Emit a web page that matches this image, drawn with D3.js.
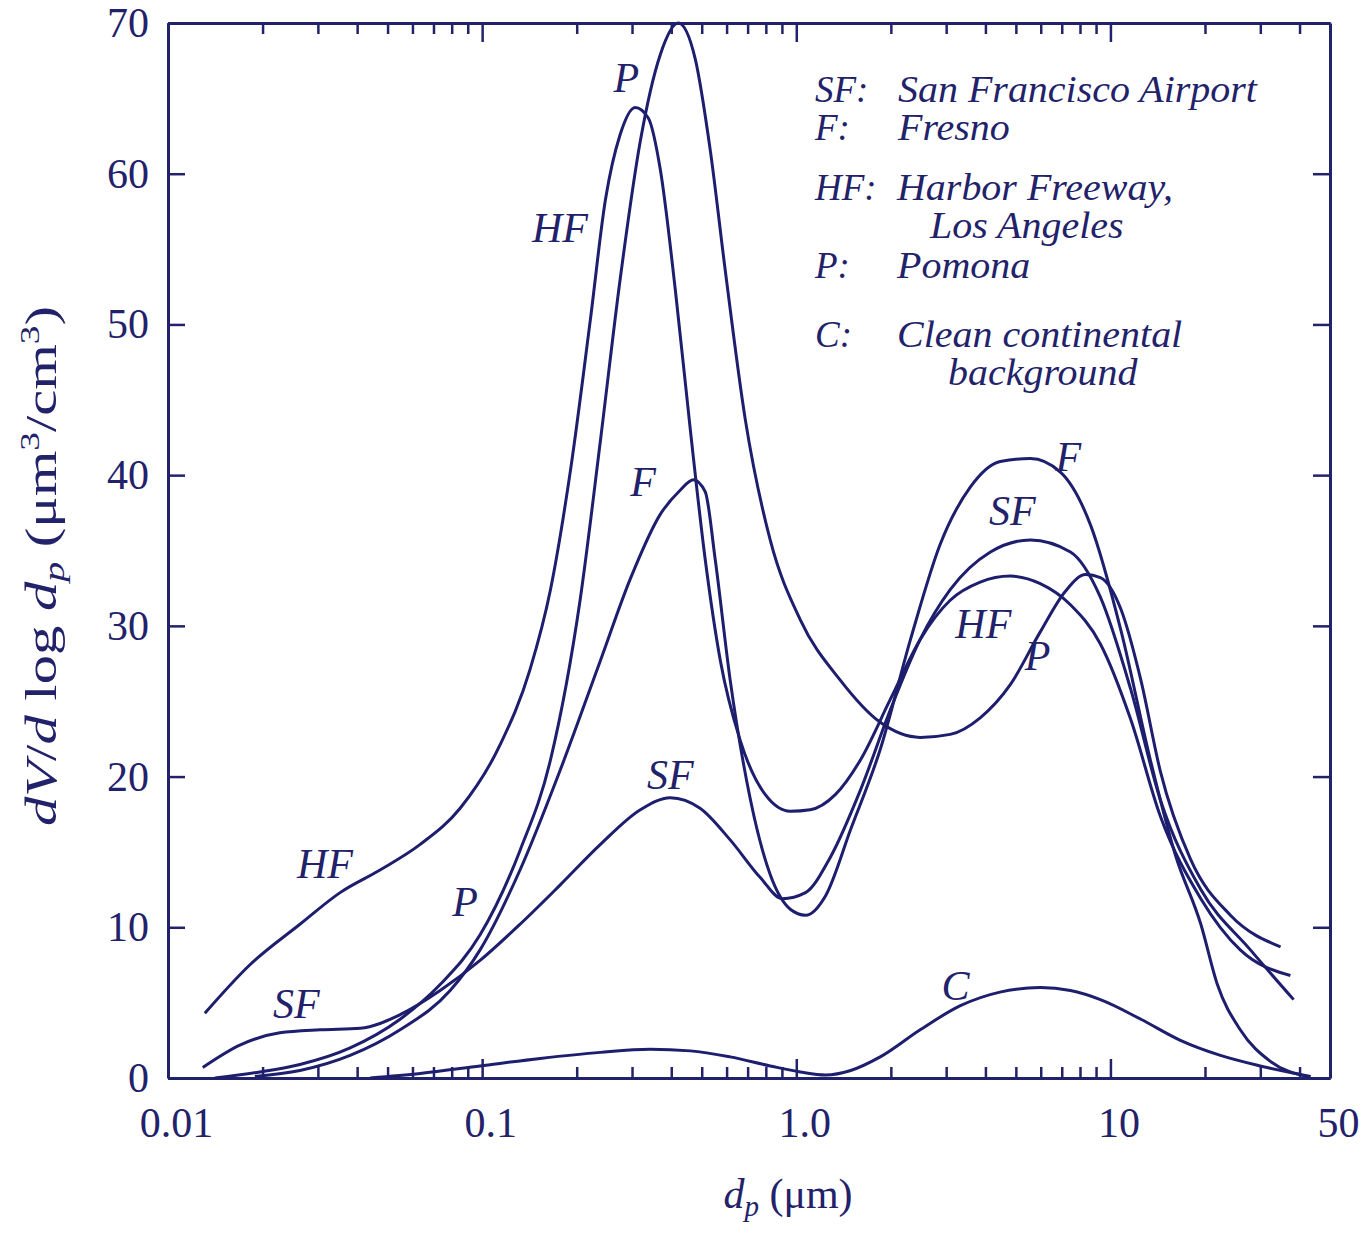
<!DOCTYPE html>
<html>
<head>
<meta charset="utf-8">
<script src="https://cdn.jsdelivr.net/npm/d3@7"></script>
<style>
  body { margin: 0; background: #fff; }
  svg text { font-family: "Liberation Serif", "Times New Roman", serif; fill: #22226a; }
  .axis path, .axis line { stroke: #22226a; }
  .curve { fill: none; stroke: #1e1e6e; stroke-width: 3; }
</style>
</head>
<body>
<div id="chart"></div>
<script>
// particle diameter (um) and dV/dlog dp (um3/cm3)
var hfDp = [0.0131, 0.0182, 0.0263, 0.0353, 0.0473, 0.0635, 0.0851, 0.114, 0.142, 0.165, 0.191, 0.221, 0.247, 0.275, 0.307, 0.338, 0.369, 0.412, 0.460, 0.513, 0.573, 0.663, 0.797, 0.957, 1.108, 1.331, 1.60, 1.99, 2.48, 3.09, 3.85, 4.80, 5.98, 7.46, 9.29, 11.6, 14.4, 19.4, 25.9, 37.4];
var hfDv = [4.3, 7.5, 10.2, 12.3, 13.8, 15.5, 17.9, 22.1, 27.1, 32.4, 40.3, 50.3, 58.3, 62.6, 64.4, 63.7, 60.3, 52.3, 43.0, 34.4, 27.7, 22.4, 18.8, 17.7, 17.8, 18.8, 21.1, 25.1, 29.1, 31.7, 32.9, 33.3, 32.8, 31.4, 28.8, 23.8, 17.4, 11.9, 8.5, 6.8];

var pDp = [0.0141, 0.0196, 0.0263, 0.0380, 0.0548, 0.0735, 0.0985, 0.132, 0.165, 0.205, 0.238, 0.275, 0.319, 0.369, 0.421, 0.477, 0.532, 0.594, 0.688, 0.826, 1.03, 1.38, 1.85, 2.48, 3.09, 3.85, 4.80, 5.98, 7.19, 8.33, 9.29, 10.8, 12.5, 14.4, 18.0, 24.1, 34.8];
var pDv = [0, 0.4, 0.9, 2.0, 3.9, 6.2, 9.5, 15.1, 21.1, 31.7, 42.3, 53.0, 62.2, 67.9, 70.0, 67.6, 61.6, 53.6, 43.7, 35.7, 30.4, 26.4, 23.6, 22.6, 22.8, 23.9, 26.1, 29.6, 32.3, 33.4, 33.2, 31.1, 26.4, 20.4, 14.5, 10.8, 8.7];

var fDp = [0.0189, 0.0263, 0.0380, 0.0548, 0.0791, 0.0985, 0.132, 0.177, 0.238, 0.296, 0.369, 0.427, 0.470, 0.513, 0.552, 0.616, 0.714, 0.826, 0.957, 1.07, 1.24, 1.49, 1.85, 2.31, 2.87, 3.58, 4.46, 5.56, 6.93, 8.64, 10.8, 13.4, 16.1, 19.4, 21.9, 25.9, 32.3, 42.4];
var fDv = [0.1, 0.5, 1.5, 3.2, 5.8, 8.5, 13.8, 20.4, 27.7, 33.1, 37.4, 39.0, 39.7, 38.9, 34.4, 26.4, 18.5, 13.5, 11.2, 10.8, 12.1, 16.5, 21.8, 29.1, 35.4, 39.2, 40.9, 41.1, 40.2, 36.7, 29.7, 21.1, 14.8, 10.2, 6.2, 3.2, 1.1, 0.1];

var sfDp = [0.0129, 0.0170, 0.0227, 0.0305, 0.0409, 0.0548, 0.0735, 0.0985, 0.132, 0.177, 0.238, 0.319, 0.397, 0.494, 0.616, 0.768, 0.902, 1.07, 1.28, 1.60, 1.99, 2.48, 3.09, 4.15, 5.56, 7.46, 9.29, 11.6, 14.4, 19.4, 27.9, 38.3];
var sfDv = [0.7, 2.2, 3.0, 3.2, 3.3, 4.2, 5.8, 7.8, 10.2, 12.8, 15.5, 17.8, 18.6, 17.9, 15.8, 13.3, 11.9, 12.3, 14.6, 19.1, 24.4, 29.1, 32.4, 34.9, 35.7, 34.9, 31.9, 25.8, 18.5, 12.5, 8.5, 5.2];

var cDp = [0.0440, 0.0635, 0.0985, 0.153, 0.238, 0.342, 0.460, 0.616, 0.826, 1.03, 1.24, 1.49, 1.85, 2.48, 3.33, 4.45, 5.98, 7.46, 9.29, 12.5, 16.7, 22.4, 30.0, 43.4];
var cDv = [0, 0.3, 0.8, 1.3, 1.7, 1.9, 1.8, 1.4, 0.8, 0.4, 0.2, 0.5, 1.4, 3.2, 4.8, 5.7, 6.0, 5.8, 5.2, 3.9, 2.5, 1.5, 0.8, 0.1];

// curve labels placed in data units
var tagText = ["P", "HF", "F", "SF", "HF", "P", "SF", "C", "F", "SF", "HF", "P"];
var tagDp = [0.2875, 0.177, 0.3256, 0.397, 0.0316, 0.0883, 0.0256, 3.21, 7.35, 4.87, 3.94, 5.86];
var tagDv = [65.4, 55.5, 38.6, 19.2, 13.3, 10.75, 4.0, 5.2, 40.3, 36.7, 29.2, 27.1];

// legend
var legendKeys = ["SF:", "F:", "HF:", "", "P:", "C:", ""];
var legendNames = ["San Francisco Airport", "Fresno", "Harbor Freeway,", "Los Angeles", "Pomona", "Clean continental", "background"];

// axis ticks
var xMajor = [0.01, 0.1, 1, 10];
var xMinor = [0.02, 0.03, 0.04, 0.05, 0.06, 0.07, 0.08, 0.09,
              0.2, 0.3, 0.4, 0.5, 0.6, 0.7, 0.8, 0.9,
              2, 3, 4, 5, 6, 7, 8, 9, 20, 30, 40];
var xLabelVals = [0.01, 0.1, 1, 10, 50];
var xLabelText = ["0.01", "0.1", "1.0", "10", "50"];
var yTicks = [0, 10, 20, 30, 40, 50, 60, 70];

var margin = { top: 23, right: 33, bottom: 157, left: 168 },
    width = 1363 - margin.left - margin.right,
    height = 1235 - margin.top - margin.bottom;

var svg = d3.select("#chart").append("svg")
    .attr("width", 1363)
    .attr("height", 1235);

var g = svg.append("g")
    .attr("transform", "translate(" + margin.left + "," + margin.top + ")");

var x = d3.scaleLog().domain([0.01, 50]).range([0, width]);
var y = d3.scaleLinear().domain([0, 70]).range([height, 0]);

// ticks on all four sides, pointing inward
g.append("g").attr("class", "axis")
    .attr("transform", "translate(0," + height + ")")
    .call(d3.axisBottom(x).tickValues(xMinor).tickSize(-11).tickSizeOuter(0).tickFormat(""));
g.append("g").attr("class", "axis")
    .attr("transform", "translate(0," + height + ")")
    .call(d3.axisBottom(x).tickValues(xMajor).tickSize(-19).tickSizeOuter(0).tickFormat(""));
g.append("g").attr("class", "axis")
    .call(d3.axisTop(x).tickValues(xMinor).tickSize(-11).tickSizeOuter(0).tickFormat(""));
g.append("g").attr("class", "axis")
    .call(d3.axisTop(x).tickValues(xMajor).tickSize(-19).tickSizeOuter(0).tickFormat(""));

// bottom labels
var xl = g.append("g").attr("class", "axis")
    .attr("transform", "translate(0," + height + ")")
    .call(d3.axisBottom(x).tickValues(xLabelVals).tickSize(0).tickPadding(29).tickSizeOuter(0)
      .tickFormat(function(d, i) { return xLabelText[i]; }));
xl.select(".domain").remove();
xl.selectAll("text").attr("font-size", 42).attr("dx", 8);

var yl = g.append("g").attr("class", "axis")
    .call(d3.axisLeft(y).tickValues(yTicks).tickSize(-17).tickPadding(19).tickSizeOuter(0));
yl.selectAll("text").attr("font-size", 42);
g.append("g").attr("class", "axis")
    .attr("transform", "translate(" + width + ",0)")
    .call(d3.axisRight(y).tickValues(yTicks).tickSize(-17).tickSizeOuter(0).tickFormat(""));

g.selectAll(".axis line").attr("stroke-width", 2.5);
g.selectAll(".axis .domain").attr("stroke-width", 3);

// curves
var series = [
  { name: "HF", dp: hfDp, dv: hfDv },
  { name: "P", dp: pDp, dv: pDv },
  { name: "F", dp: fDp, dv: fDv },
  { name: "SF", dp: sfDp, dv: sfDv },
  { name: "C", dp: cDp, dv: cDv }
];

var line = d3.line()
    .x(function(d) { return x(d[0]); })
    .y(function(d) { return y(d[1]); })
    .curve(d3.curveMonotoneX);

g.selectAll(".curve")
    .data(series)
    .enter().append("path")
    .attr("class", "curve")
    .attr("d", function(s) { return line(d3.zip(s.dp, s.dv)); });

// curve tags
g.selectAll(".tag")
    .data(tagText)
    .enter().append("text")
    .attr("class", "tag")
    .attr("x", function(d, i) { return x(tagDp[i]); })
    .attr("y", function(d, i) { return y(tagDv[i]); })
    .attr("text-anchor", "middle")
    .attr("font-size", 42)
    .attr("font-style", "italic")
    .text(function(d) { return d; });

// legend block
var legendY = [102, 140, 200, 238, 278, 347, 385];
var nameX = [898, 898, 897, 930, 897, 897, 948];
var leg = svg.append("g")
    .attr("font-size", 37)
    .attr("font-style", "italic");
legendKeys.forEach(function(k, i) {
  if (k) leg.append("text").attr("x", 815).attr("y", legendY[i]).text(k);
  var t = leg.append("text").attr("x", nameX[i]).attr("y", legendY[i]).text(legendNames[i]);
  var w = t.node().getComputedTextLength();
  t.attr("textLength", w * 1.08).attr("lengthAdjust", "spacingAndGlyphs");
});

// axis titles
var xt = svg.append("text")
    .attr("x", 788).attr("y", 1208)
    .attr("text-anchor", "middle")
    .attr("font-size", 42);
xt.append("tspan").attr("font-style", "italic").text("d");
xt.append("tspan").attr("font-style", "italic").attr("font-size", 29).attr("dy", 8).text("p");
xt.append("tspan").attr("dy", -8).text(" (\u03bcm)");

var yt = svg.append("text")
    .attr("transform", "translate(56,566) rotate(-90)")
    .attr("text-anchor", "middle")
    .attr("font-size", 44);
yt.append("tspan").attr("font-style", "italic").text("dV");
yt.append("tspan").text("/");
yt.append("tspan").attr("font-style", "italic").text("d");
yt.append("tspan").text(" log ");
yt.append("tspan").attr("font-style", "italic").text("d");
yt.append("tspan").attr("font-style", "italic").attr("font-size", 30).attr("dy", 8).text("p");
yt.append("tspan").attr("dy", -8).text(" (\u03bcm");
yt.append("tspan").attr("font-size", 28).attr("dy", -17).text("3");
yt.append("tspan").attr("dy", 17).text("/cm");
yt.append("tspan").attr("font-size", 28).attr("dy", -17).text("3");
yt.append("tspan").attr("dy", 17).text(")");
var ytw = yt.node().getComputedTextLength();
yt.attr("textLength", Math.max(ytw, 520)).attr("lengthAdjust", "spacingAndGlyphs");
</script>
</body>
</html>
